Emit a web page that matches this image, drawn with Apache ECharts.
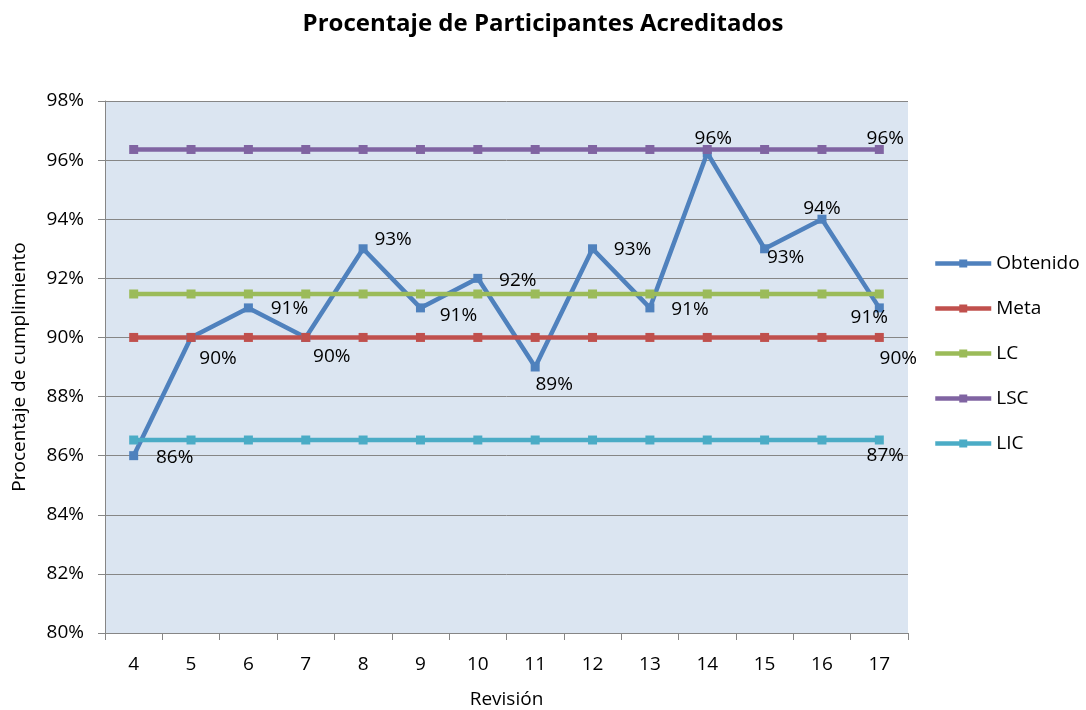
<!DOCTYPE html>
<html>
<head>
<meta charset="utf-8">
<script src="https://cdn.jsdelivr.net/npm/echarts@6/dist/echarts.min.js"></script>
<style>
  html, body { margin: 0; padding: 0; background: #fff; }
  #chart { width: 1086px; height: 710px; }
</style>
</head>
<body>
<div id="chart"></div>
<script>
// revisiones
const revisiones = ['4', '5', '6', '7', '8', '9', '10', '11', '12', '13', '14', '15', '16', '17'];
// valores en %
const obtenido = [86, 90, 91, 90, 93, 91, 92, 89, 93, 91, 96.24, 93, 94, 91];
const meta = [90, 90, 90, 90, 90, 90, 90, 90, 90, 90, 90, 90, 90, 90];
const lc = [91.47, 91.47, 91.47, 91.47, 91.47, 91.47, 91.47, 91.47, 91.47, 91.47, 91.47, 91.47, 91.47, 91.47];
const lsc = [96.36, 96.36, 96.36, 96.36, 96.36, 96.36, 96.36, 96.36, 96.36, 96.36, 96.36, 96.36, 96.36, 96.36];
const lic = [86.53, 86.53, 86.53, 86.53, 86.53, 86.53, 86.53, 86.53, 86.53, 86.53, 86.53, 86.53, 86.53, 86.53];

// desplazamiento de etiquetas (px, desde el centro del punto)
const offsetsObtenido = [[41, 2], [27, 21], [41, 1], [26, 19], [30, -9], [38, 8], [40, 2], [19, 18], [40, 1], [40, 2], [6, -14], [21, 9], [0, -11], [-10, 10]];
const font = '"Open Sans", "Noto Sans", sans-serif';
const fs = 19;
const pct = p => Math.round(p.value) + '%';

const chart = echarts.init(document.getElementById('chart'));

function lastLabel (data, offset) {
  return data.map((v, i) => {
    if (i !== data.length - 1) return v;
    return {
      value: v,
      label: { show: true, position: 'inside', offset: offset, formatter: pct, color: '#000', fontSize: fs, fontFamily: font }
    };
  });
}

function serie (name, color, data) {
  return {
    name: name,
    type: 'line',
    data: data,
    symbol: 'rect',
    symbolSize: 9,
    lineStyle: { color: color, width: 4.5 },
    itemStyle: { color: color },
    emphasis: { disabled: true },
    animation: false
  };
}

const option = {
  backgroundColor: '#fff',
  title: {
    text: 'Procentaje de Participantes Acreditados',
    left: 'center',
    top: 7,
    textStyle: { fontSize: 24, fontWeight: 'bold', color: '#000', fontFamily: font }
  },
  legend: {
    orient: 'vertical',
    left: 933,
    top: 254,
    padding: 0,
    itemWidth: 56,
    itemHeight: 10,
    itemGap: 26,
    itemStyle: { borderWidth: 0 },
    lineStyle: { width: 4.5 },
    textStyle: { fontSize: fs, color: '#000', fontFamily: font },
    data: ['Obtenido', 'Meta', 'LC', 'LSC', 'LIC']
  },
  grid: {
    left: 105,
    right: 178,
    top: 101,
    bottom: 77,
    show: true,
    backgroundColor: '#DBE5F1',
    borderWidth: 0,
    containLabel: false,
    outerBoundsMode: 'none'
  },
  xAxis: {
    type: 'category',
    data: revisiones,
    name: 'Revisión',
    nameLocation: 'middle',
    nameGap: 57,
    nameTextStyle: { fontSize: fs, color: '#000', fontFamily: font },
    axisLine: { lineStyle: { color: '#868686', width: 1 } },
    axisTick: { show: true, length: 7, lineStyle: { color: '#868686' } },
    axisLabel: { fontSize: fs, color: '#000', margin: 22, fontFamily: font },
    splitLine: { show: false }
  },
  yAxis: {
    type: 'value',
    min: 80,
    max: 98,
    interval: 2,
    name: 'Procentaje de cumplimiento',
    nameLocation: 'middle',
    nameGap: 76,
    nameTextStyle: { fontSize: fs, color: '#000', fontFamily: font },
    axisLine: { show: true, lineStyle: { color: '#868686', width: 1 } },
    axisTick: { show: true, length: 7, lineStyle: { color: '#868686' } },
    axisLabel: { formatter: '{value}%', fontSize: fs, color: '#000', margin: 21, fontFamily: font },
    splitLine: { lineStyle: { color: '#868686', width: 1 } }
  },
  series: [
    serie('Obtenido', '#4F81BD', obtenido.map((v, i) => ({
      value: v,
      label: { show: true, position: 'inside', offset: offsetsObtenido[i], formatter: pct, color: '#000', fontSize: fs, fontFamily: font }
    }))),
    serie('Meta', '#C0504D', lastLabel(meta, [19, 21])),
    serie('LC', '#9BBB59', lc),
    serie('LSC', '#8064A2', lastLabel(lsc, [6, -11])),
    serie('LIC', '#4BACC6', lastLabel(lic, [6, 16]))
  ]
};

chart.setOption(option);
</script>
</body>
</html>
